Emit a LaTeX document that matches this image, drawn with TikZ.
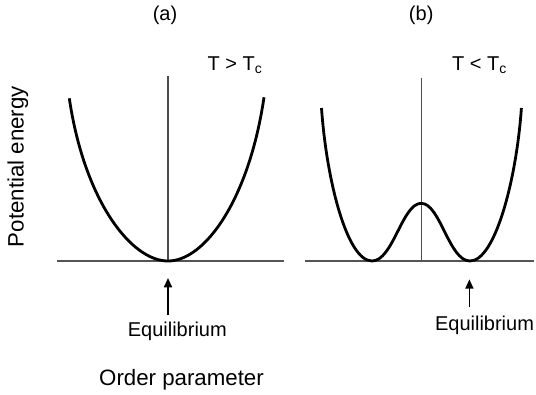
\documentclass[tikz,border=0pt]{standalone}
\usepackage{fontspec}
\setmainfont{Liberation Sans}
\usepackage{xcolor}
\definecolor{PEaxis}{HTML}{555555}
\definecolor{PEline}{HTML}{4D4D4D}
\usetikzlibrary{arrows.meta}

\begin{document}
\begin{tikzpicture}[x=0.75pt, y=-0.75pt,
  lbl/.style={font=\fontsize{15}{18}\selectfont, inner sep=0pt},
  big/.style={font=\fontsize{16.7}{20}\selectfont, inner sep=0pt},
  axis/.style={draw=PEaxis, line width=1.3pt},
  mid/.style={draw=PEline, line width=0.8pt},
  well/.style={draw=black, line width=2.1pt},
  arr/.style={-{Triangle[length=7pt, width=6pt]}, line width=1.3pt}
]
\useasboundingbox (0,0) rectangle (536,394);

% panel (a)
\coordinate (a0) at (168,261);
\coordinate (aL) at (69.3,98.3);
\coordinate (aR) at (264,97.3);
\coordinate (aT) at (168,76);
\coordinate (ax1) at (57.4,261);
\coordinate (ax2) at (284.4,261);
\coordinate (ea) at (168,315);
\coordinate (ha) at (168,278);
\node[lbl] (capa) at (165,15) {(a)};
\node[lbl] (tempa) at (235,65) {T > T\textsubscript{c}};
\node[lbl] (eqa) at (177.3,331.7) {Equilibrium};
\draw[axis] (ax1) -- (ax2);
\draw[mid] (aT) -- (a0);
\draw[well] (aL) .. controls +(15,102) and +(-37,0) .. (a0)
  .. controls +(37,0) and +(-15,102) .. (aR);
\draw[arr] (ea) -- (ha);

% panel (b)
\coordinate (b1) at (372,261);
\coordinate (b2) at (470,261);
\coordinate (bP) at (421.2,203.3);
\coordinate (bL) at (321.5,108);
\coordinate (bR) at (521.4,108);
\coordinate (bT) at (421.2,77.7);
\coordinate (bB) at (421.2,261);
\coordinate (bx1) at (305.3,261);
\coordinate (bx2) at (534,261);
\coordinate (eb) at (469.4,306.7);
\coordinate (hb) at (469.4,279.3);
\node[lbl] (capb) at (421.2,15) {(b)};
\node[lbl] (tempb) at (479.5,65) {T < T\textsubscript{c}};
\node[lbl] (eqb) at (484.5,325) {Equilibrium};
\draw[axis] (bx1) -- (bx2);
\draw[mid] (bT) -- (bB);
\draw[well] (bL) .. controls +(5,72) and +(-25,0) .. (b1)
  .. controls +(21,0) and +(-19,0) .. (bP)
  .. controls +(19,0) and +(-21,0) .. (b2)
  .. controls +(25,0) and +(-5,72) .. (bR);
\draw[arr] (eb) -- (hb);

% axis titles
\node[big] (xlab) at (181.5,380) {Order parameter};
\node[big, rotate=90] (ylab) at (17.8,166.7) {Potential energy};
\end{tikzpicture}
\end{document}
